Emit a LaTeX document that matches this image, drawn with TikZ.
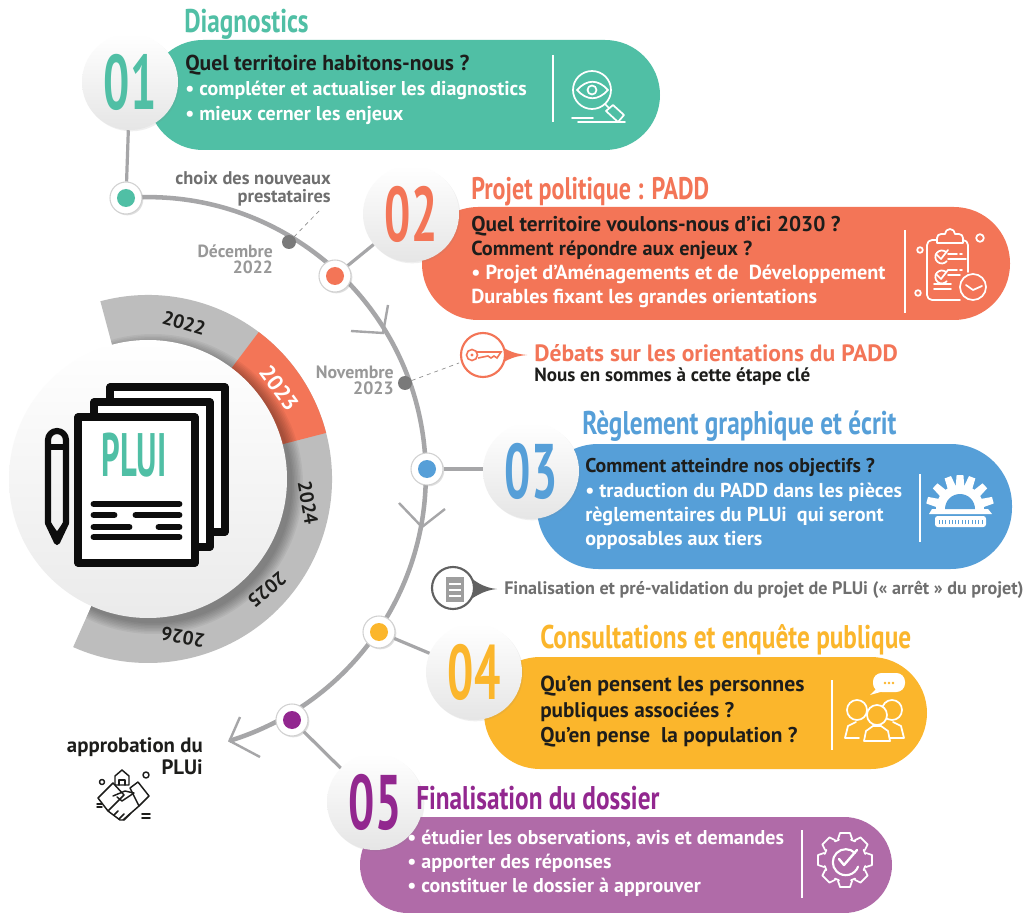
\documentclass[tikz,border=0pt]{standalone}
\usepackage{fontspec}
\usetikzlibrary{shadows,calc}
\setmainfont{PT Sans}
\newfontfamily\titlef{PT Sans Bold}[FakeStretch=0.77]
\newfontfamily\numf{PT Sans Bold}[FakeStretch=0.6]
\newfontfamily\pluif{PT Sans Bold}[FakeStretch=0.53]
\definecolor{cteal}{HTML}{50BFA5}
\definecolor{corange}{HTML}{F37557}
\definecolor{cblue}{HTML}{569FD8}
\definecolor{cyellow}{HTML}{FBB62C}
\definecolor{cpurple}{HTML}{B06BA8}
\definecolor{dpurple}{HTML}{92278F}
\definecolor{cline}{HTML}{A6A6A8}
\definecolor{cring}{HTML}{BDBDBD}
\definecolor{cdark}{HTML}{1D1D1B}
\definecolor{ctxt}{HTML}{6F6F6F}
\definecolor{cgrey}{HTML}{989898}
\pgfdeclarelayer{paper}
\pgfdeclarelayer{bg}
\pgfsetlayers{paper,bg,main}
\tikzset{
  x=0.75pt,y=-0.75pt,
  numc/.style={circle,minimum size=72pt,inner sep=0pt,top color=white,middle color=white,bottom color=black!10,
     drop shadow={opacity=.12,shadow xshift=1pt,shadow yshift=-1pt},font=\numf\fontsize{58}{58}\selectfont},
  dotc/.style={circle,minimum size=24pt,inner sep=0pt,fill=white,draw=black!18,line width=.8pt,
     drop shadow={opacity=.25,shadow xshift=1pt,shadow yshift=-1pt}},
  core/.style={circle,minimum size=13.5pt,inner sep=0pt,fill=#1},
  tick/.style={circle,minimum size=10.5pt,inner sep=0pt,fill=black!52},
  ttl/.style={anchor=west,inner sep=0pt,yshift=-1.5pt,font=\titlef\fontsize{#1}{#1}\selectfont},
  ttl/.default=24.6,
  body/.style={anchor=west,inner sep=0pt,yshift=-.8pt,font=\bfseries\fontsize{#1}{#1}\selectfont},
  body/.default=15,
  year/.style={inner sep=0pt,font=\bfseries\fontsize{#1}{#1}\selectfont},
  year/.default=14.5,
  side/.style 2 args={anchor=east,inner sep=0pt,align=right,font=\bfseries\fontsize{#1}{#2}\selectfont},
  rail/.style={draw=cline,line width=3.4pt},
  link/.style={draw=cline,line width=2.4pt},
  barb/.style={draw=cline,line width=1.8pt,line join=miter},
  divider/.style={draw=white,line width=1.1pt},
  ico/.style={draw=white,line width=1.3pt,line cap=round,line join=round},
  blk/.style={draw=black!95,line width=5.4pt,line join=round},
  blkl/.style={draw=black!95,line width=5.2pt,line cap=round},
}
\newcommand{\ringpath}[2]{(148,479) ++(#1:184) arc[start angle=#1,end angle=#2,radius=184] -- ($(148,479)+(#2:138)$) arc[start angle=#2,end angle=#1,radius=138] -- cycle}
\begin{document}
\begin{tikzpicture}
\useasboundingbox (0,0) rectangle (1026,913);
\begin{pgfonlayer}{paper}
\fill[white] (0,0) rectangle (1026,913);
\end{pgfonlayer}

% ---- year ring and disc
\fill[cring] \ringpath{-105}{114};
\fill[corange] \ringpath{-53}{-14.5};
\begin{scope}
\clip \ringpath{-105}{114};
\foreach \k in {1,...,8}{\fill[black,opacity=.045] (153,484) circle[radius=138+\k*1.5];}
\end{scope}
\node[circle,minimum size=208.5pt,inner sep=0pt,top color=white,middle color=white,bottom color=black!8] (disc) at (148,479) {};
\node[year,rotate=-17,text=cdark] (y22) at (184,323) {2022};
\node[year=16.5,rotate=-54,text=white] (y23) at (279,388) {2023};
\node[year,rotate=-80,text=cdark] (y24) at (308,503) {2024};
\node[year,rotate=-140,text=cdark] (y25) at (267,590) {2025};
\node[year,rotate=170,text=cdark] (y26) at (183,637) {2026};

% ---- PLUI document
\draw[blk,fill=white] (110,387) rectangle (225,532);
\draw[blk,fill=white] (94,402) rectangle (210,547);
\draw[blk,fill=white] (78,417) rectangle (195,563);
\node[inner sep=0pt,text=cteal,font=\pluif\fontsize{46}{46}\selectfont] (plui) at (134,455) {PLUI};
\draw[blkl] (94,504) -- (179,504);
\draw[blkl] (94,515) -- (114,515) (136,515) -- (179,515);
\draw[blkl] (94,527) -- (129,527) (159,527) -- (179,527);
\draw[blkl] (94,537) -- (179,537);
\draw[draw=black!95,line width=4.6pt,line join=round] (48,523) -- (48,440) arc[start angle=180,end angle=360,radius=9] -- (66,523) -- (57,542) -- cycle;
\draw[draw=black!95,line width=4.6pt] (48,447) -- (66,447);
\draw[draw=black!95,line width=4pt] (48,523) -- (57,536) -- (66,523);

% ---- bands
\fill[cteal,rounded corners=41.2pt] (148,40) rectangle (660,150);
\fill[corange,rounded corners=42pt] (422,207) rectangle (1010,320);
\fill[cblue,rounded corners=46pt] (537,444) rectangle (1012,569);
\fill[cyellow,rounded corners=42pt] (484,657) rectangle (927,769);
\fill[cpurple,rounded corners=36pt] (360,817) rectangle (892,913);

% ---- number circles
\node[numc,text=cteal] (n1) at (130,82) {01};
\node[numc,text=corange] (n2) at (411,214) {02};
\node[numc,text=cblue] (n3) at (531,471) {03};
\node[numc,text=cyellow] (n4) at (474,672) {04};
\node[numc,text=dpurple] (n5) at (375,802) {05};

% ---- milestones
\node[dotc] (d1) at (126,198) {};
\node[dotc] (d2) at (335,276) {};
\node[dotc] (d3) at (427,469) {};
\node[dotc] (d4) at (379,632) {};
\node[dotc] (d5) at (292,720) {};
\node[core=cteal] at (d1) {};
\node[core=corange] at (d2) {};
\node[core=cblue] at (d3) {};
\node[core=cyellow] at (d4) {};
\node[core=dpurple] at (d5) {};
\node[tick] (t1) at (289,242) {};
\node[tick] (t2) at (405,383) {};

% ---- rail, links and barbs
\begin{pgfonlayer}{bg}
\draw[rail] (d1.center) arc[start angle=-94.5,end angle=72.9,radius=278] coordinate (tip);
\end{pgfonlayer}
\draw[link] (d1) -- (n1);
\draw[link] (d2) -- (n2);
\draw[link] (d3) -- (n3.west |- d3);
\draw[link] (d4) -- (n4);
\draw[link] (d5) -- (n5);
\coordinate (a1) at (388,305); \coordinate (a2) at (351,331); \coordinate (ta) at (383,333);
\draw[barb] (a1) -- (ta) -- (a2);
\coordinate (b1) at (399,503); \coordinate (b2) at (445,509); \coordinate (tb) at (422,527);
\draw[barb] (b1) -- (tb) -- (b2);
\coordinate (c1) at (240,717); \coordinate (c2) at (260,757);
\draw[barb] (c1) -- (tip) -- (c2);

% ---- dashed leaders
\coordinate (lc) at (320,210);
\draw[black!45,dashed,line width=.5pt] (t1) -- (lc);
\coordinate (lk) at (459,363);
\draw[black!45,dashed,line width=.5pt] (t2) -- (lk);

% ---- side labels
\node[side={13.8}{13.5},text=ctxt] (choix) at (331,189) {choix des nouveaux\\prestataires};
\node[side={13.2}{12}] [text=cgrey] (dec) at (273,259) {Décembre\\2022};
\node[side={13.4}{12},text=cgrey] (nov) at (394,380) {Novembre\\2023};
\node[side={15.6}{16.5},text=cdark] (appr) at (203,756) {approbation du\\PLUi};

% ---- titles
\node[ttl,text=cteal] (t01) at (184,22) {Diagnostics};
\node[ttl=23.4,text=corange] (t02) at (471,190) {Projet politique : PADD};
\node[ttl,text=cblue] (t03) at (582,424) {Règlement graphique et écrit};
\node[ttl,text=cyellow] (t04) at (540,638) {Consultations et enquête publique};
\node[ttl,text=dpurple] (t05) at (416,796) {Finalisation du dossier};

% ---- band texts
\node[body=16.2,text=cdark] at (185,64) {Quel territoire habitons-nous ?};
\node[body=15,text=white] at (185,89) {• compléter et actualiser les diagnostics};
\node[body,text=white] at (185,114) {• mieux cerner les enjeux};

\node[body=16,text=cdark] at (471,225) {Quel territoire voulons-nous d’ici 2030 ?};
\node[body=15.2,text=cdark] at (471,249) {Comment répondre aux enjeux ?};
\node[body=15.2,text=white] at (471,273) {• Projet d’Aménagements et de\ \ Développement};
\node[body=15.2,text=white] at (471,297) {Durables fixant les grandes orientations};

\node[body=14.9,text=cdark] at (585,466) {Comment atteindre nos objectifs ?};
\node[body=15.1,text=white] at (585,491) {• traduction du PADD dans les pièces};
\node[body=15.1,text=white] at (585,515) {règlementaires du PLUi\ \ qui seront};
\node[body=15.1,text=white] at (585,539) {opposables aux tiers};

\node[body=16.3,text=cdark] at (540,685) {Qu’en pensent les personnes};
\node[body=15.9,text=cdark] at (540,711) {publiques associées ?};
\node[body=16,text=cdark] at (540,736) {Qu’en pense\ \ la population ?};

\node[body,text=white] at (407,838) {• étudier les observations, avis et demandes};
\node[body,text=white] at (407,862) {• apporter des réponses};
\node[body,text=white] at (407,886) {• constituer le dossier à approuver};

\node[body=17.7,text=corange] (deb) at (534,352) {Débats sur les orientations du PADD};
\node[body=14.3,text=cdark] (nous) at (534,375) {Nous en sommes à cette étape clé};
\node[body=13.6,text=ctxt] (fin) at (504,589) {Finalisation et pré-validation du projet de PLUi (« arrêt » du projet)};

% ---- dividers
\draw[divider] (553,55) -- (553,122);
\draw[divider] (905,230) -- (905,313);
\draw[divider] (920,474) -- (920,542);
\draw[divider] (832,680) -- (832,750);
\draw[divider] (802,830) -- (802,898);

% ---- eye icon
\draw[ico] (592,90) circle[radius=19];
\draw[ico] (577,90) .. controls (587,79) and (598,79) .. (608,90) .. controls (598,101) and (587,101) .. (577,90) -- cycle;
\draw[ico] (592,90) circle[radius=4.5];
\draw[ico] (605,104) -- (609,108);
\draw[ico] (606,111) -- (613,105) -- (624,115) -- (618,122) -- cycle;
\draw[ico] (572,118) -- (593,118);
\draw[ico] (578,122) -- (625,122);

% ---- clipboard icon
\draw[ico] (960,300) -- (932,300) arc[start angle=90,end angle=180,radius=5] -- (927,245) arc[start angle=180,end angle=270,radius=5] -- (937,240);
\draw[ico] (963,240) arc[start angle=270,end angle=360,radius=5] -- (968,272);
\draw[ico] (937,243) -- (937,238) arc[start angle=180,end angle=270,radius=4] -- (945,234) arc[start angle=180,end angle=360,radius=5] -- (959,234) arc[start angle=270,end angle=360,radius=4] -- (963,243) -- cycle;
\draw[ico,fill=corange] (973,287) circle[radius=13];
\draw[ico] (966,285) -- (973,290) -- (982,286);
\draw[ico] (980,238) circle[radius=3.8];
\draw[ico] (920,250) circle[radius=2.8];
\draw[ico] (918,293) circle[radius=2.8];
\draw[ico] (946,252) arc[start angle=-50,end angle=-320,radius=6.5];
\draw[ico] (936,254) -- (941,259) -- (948,250);
\draw[ico] (946,272) arc[start angle=-50,end angle=-320,radius=6.5];
\draw[ico] (936,274) -- (941,279) -- (948,270);
\draw[ico] (948,254) -- (957,254) (960,254) -- (962,254) (948,259) -- (966,259);
\draw[ico] (948,270) -- (957,270) (960,270) -- (962,270) (948,275) -- (960,275);
\draw[ico] (934,284) -- (951,284) (934,289) -- (951,289);

% ---- gear and ruler icon
\fill[white] (929,514) -- (932,509) -- (936,509) arc[start angle=180,end angle=360,radius=24] -- (988,509) -- (992,514) -- cycle;
\foreach \a in {15,43,69,90,111,137,165}{
  \fill[white,shift={(960,509)},rotate=\a] (20,-4.5) -- (34,-3.4) -- (34,3.4) -- (20,4.5) -- cycle;}
\fill[cblue] (945,509) arc[start angle=180,end angle=360,radius=15] -- cycle;
\fill[white,rounded corners=2pt] (935,516) rectangle (986,527);
\foreach \u in {0,...,13}{\draw[cblue,line width=.6pt] (939+\u*3.3,524) -- (939+\u*3.3,520);}

% ---- people icon
\fill[white,rounded corners=6.5pt] (873,673) rectangle (905,692);
\fill[white] (877,688) -- (870,695) -- (884,691) -- cycle;
\foreach \u in {885,889,893}{\fill[cyellow] (\u,683) circle[radius=1.4];}
\draw[ico] (857,710) circle[radius=10];
\draw[ico] (892,710) circle[radius=10];
\draw[ico] (845,738) -- (848,726) -- (856,722) (859,738) -- (845,738);
\draw[ico] (904,738) -- (901,726) -- (893,722) (890,738) -- (904,738);
\draw[ico,fill=cyellow] (877,715) circle[radius=10];
\draw[ico,fill=cyellow] (864,741) -- (866,731) -- (873,726) -- (881,726) -- (888,731) -- (890,741) -- cycle;

% ---- check gear icon
\foreach \a in {0,45,...,315}{
  \draw[ico,shift={(845,860)},rotate=\a] (21,-7) -- (27,-5) -- (27,5) -- (21,7);}
\foreach \a in {0,45,...,315}{
  \draw[ico,shift={(845,860)},rotate=\a+22.5] (21,-2.2) arc[start angle=-6,end angle=6,radius=21];}
\draw[ico,line width=1.6pt] (855,853) arc[start angle=-45,end angle=-340,radius=13];
\draw[ico,line width=1.8pt] (839,859) -- (844,865) -- (857,850);

% ---- key bubble
\fill[corange] (492,339) .. controls (503,349) and (513,354) .. (527,355) .. controls (513,356) and (503,361) .. (492,371) -- cycle;
\draw[corange,line width=1.6pt,fill=white] (483,355) circle[radius=22];
\draw[corange,line width=1.2pt] (472,355) circle[radius=5.5];
\fill[corange] (472,355) circle[radius=1.6];
\draw[corange,line width=1.2pt] (477,352) -- (501,352) -- (497,358) -- (494,356) -- (491,358) -- (488,356) -- (478,358);

% ---- document bubble
\fill[black!62] (462,570) .. controls (473,581) and (484,588) .. (497,589) .. controls (484,590) and (473,597) .. (462,606) -- cycle;
\draw[black!62,line width=1.6pt,fill=white] (453,588) circle[radius=21];
\fill[black!38] (446,577) rectangle (464,602);
\draw[white,line width=1pt] (449,584) -- (461,584) (449,590) -- (461,590) (449,596) -- (461,596);

% ---- handshake icon
\begin{scope}[line width=1.1pt,line join=round,line cap=round]
\draw[cdark] (115,785) -- (115,776) -- (122,770) -- (129,776) -- (129,785) -- cycle;
\draw[cdark] (119,785) -- (119,780) -- (125,780) -- (125,785);
\draw[cdark] (146,775) circle[radius=3];
\draw[cdark] (102,782) circle[radius=2.5];
\draw[cdark] (98,798) -- (113,783) -- (124,795) -- (108,811) -- cycle;
\draw[cdark] (130,788) -- (138,782) -- (149,796) -- (139,806) -- cycle;
\draw[cdark] (113,796) -- (125,791) -- (134,793) -- (122,801) -- (117,797);
\draw[cdark] (108,811) -- (120,820) -- (123,820) -- (139,806);
\draw[cdark] (114,815) -- (118,811) (119,819) -- (124,814) (124,820) -- (130,814);
\draw[cdark,line width=1.4pt] (142,814) -- (150,814) (142,818) -- (150,818);
\draw[cdark,line width=1.1pt] (97,804) -- (102,804) (97,807) -- (102,807);
\end{scope}
\end{tikzpicture}
\end{document}
